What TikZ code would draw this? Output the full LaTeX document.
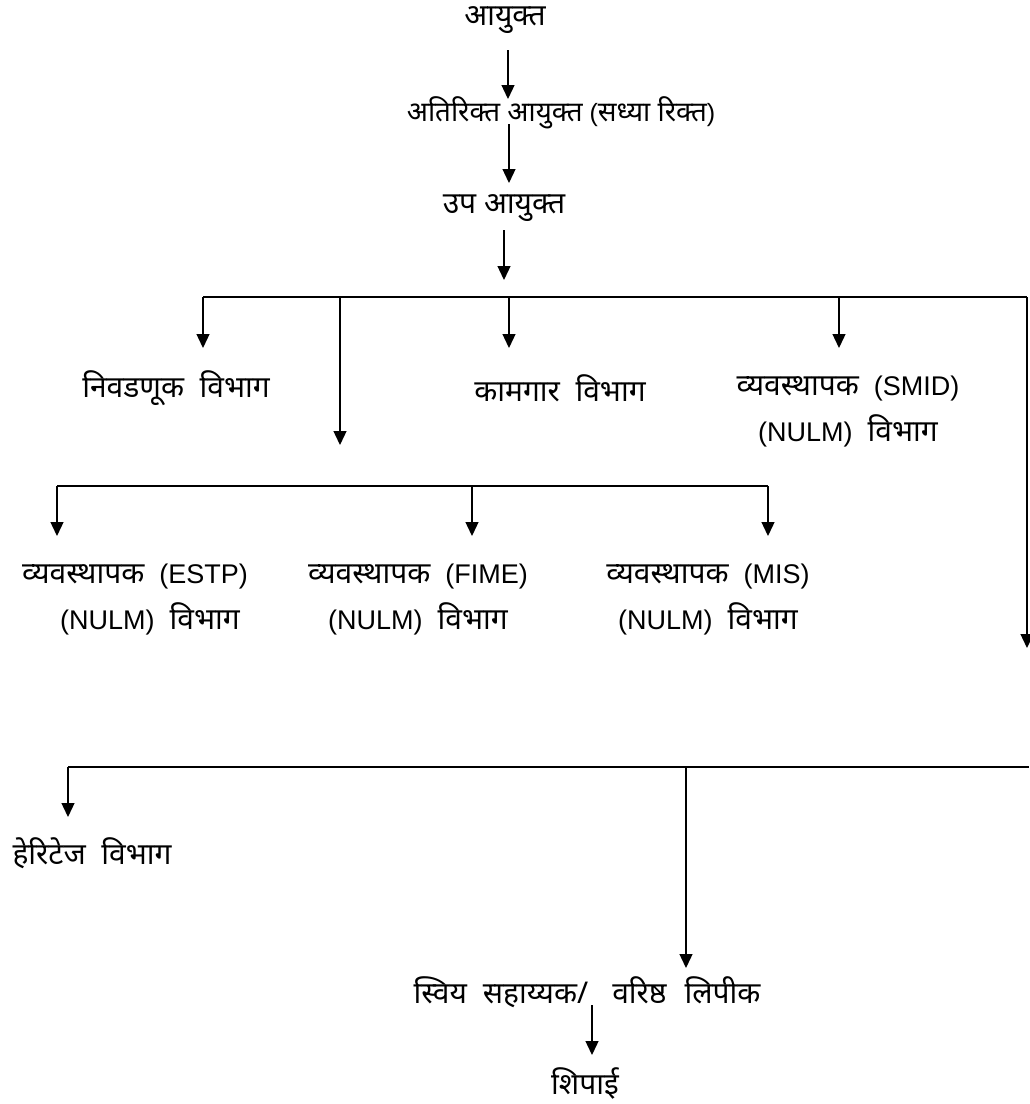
\documentclass[tikz,border=0pt]{standalone}
\usepackage{fontspec}
\setmainfont{Liberation Sans}
\newfontfamily\dev[Script=Devanagari,Scale=1.11]{Noto Sans}
\usetikzlibrary{arrows.meta}

\begin{document}
\begin{tikzpicture}[x=1pt,y=-1pt,
        post/.style={font=\fontsize{27}{46}\selectfont,inner sep=0pt,align=center},
        link/.style={line width=1.3pt},
        arr/.style={link,-{Triangle[width=13pt,length=14pt]}}]
    \useasboundingbox (0,0) rectangle (1029,1104);

    \node[post] (commr)    at (505,20)  {\dev आयुक्त};
    \node[post,font=\fontsize{25}{46}\selectfont] (addl) at (561,113) {{\dev अतिरिक्त आयुक्त} ({\dev सध्या रिक्त})};
    \node[post] (dycommr)  at (504,208) {\dev उप आयुक्त};
    \node[post] (election) at (176,388) {\dev निवडणूक\ \ विभाग};
    \node[post] (labour)   at (560,388) {\dev कामगार\ \ विभाग};
    \node[post] (smid)     at (848,412) {{\dev व्यवस्थापक}\ \ (SMID)\\(NULM)\ \ {\dev विभाग}};
    \node[post] (estp)     at (135,600) {{\dev व्यवस्थापक}\ \ (ESTP)\\\hspace*{30pt}(NULM)\ \ {\dev विभाग}};
    \node[post] (fime)     at (418,600) {{\dev व्यवस्थापक}\ \ (FIME)\\(NULM)\ \ {\dev विभाग}};
    \node[post] (mis)      at (708,600) {{\dev व्यवस्थापक}\ \ (MIS)\\(NULM)\ \ {\dev विभाग}};
    \node[post] (heritage) at (92,853)  {\dev हेरिटेज\ \ विभाग};
    \node[post] (pa)       at (587,992) {\dev स्विय\hspace{16pt}सहाय्यक/\hspace{24pt}वरिष्ठ\hspace{18pt}लिपीक};
    \node[post] (peon)     at (585,1083) {\dev शिपाई};

    \coordinate (fromcommr) at (508,50);
    \coordinate (toaddl)    at (508,99);
    \coordinate (fromaddl)  at (509,124);
    \coordinate (tody)      at (509,183);
    \coordinate (fromdy)    at (504,230);
    \coordinate (todyend)   at (504,280);
    \coordinate (frompa)    at (592,1005);
    \coordinate (topeon)    at (592,1055);
    \draw[arr] (fromcommr) -- (toaddl);
    \draw[arr] (fromaddl) -- (tody);
    \draw[arr] (fromdy) -- (todyend);
    \draw[arr] (frompa) -- (topeon);

    \coordinate (bus1w) at (203,297);
    \coordinate (bus1e) at (1027,297);
    \coordinate (toelection) at (203,348);
    \coordinate (tosub)      at (340,445);
    \coordinate (tolabour)   at (509,348);
    \coordinate (tosmid)     at (839,348);
    \coordinate (toright)    at (1027,648);
    \draw[link] (bus1w) -- (bus1e);
    \draw[arr] (bus1e) -- (toright);
    \foreach \t in {toelection,tosub,tolabour,tosmid}
        \draw[arr] (\t |- bus1w) -- (\t);

    \coordinate (bus2w) at (57,486);
    \coordinate (bus2e) at (768,486);
    \coordinate (toestp) at (57,536);
    \coordinate (tofime) at (472,536);
    \coordinate (tomis)  at (768,536);
    \draw[link] (bus2w) -- (bus2e);
    \foreach \t in {toestp,tofime,tomis}
        \draw[arr] (\t |- bus2w) -- (\t);

    \coordinate (bus3w) at (68,767);
    \coordinate (bus3e) at (1029,767);
    \coordinate (toheritage) at (68,817);
    \coordinate (topa)       at (686,968);
    \draw[link] (bus3w) -- (bus3e);
    \foreach \t in {toheritage,topa}
        \draw[arr] (\t |- bus3w) -- (\t);
\end{tikzpicture}
\end{document}
